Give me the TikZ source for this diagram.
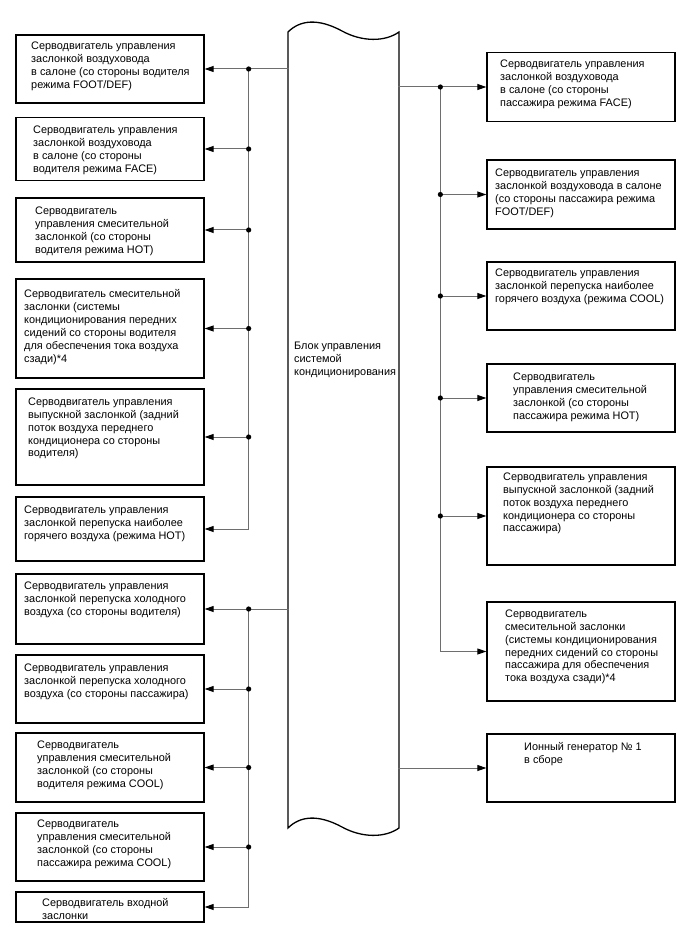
\documentclass[tikz,border=0pt]{standalone}
\usepackage{fontspec}
\setmainfont{Liberation Sans}
\usetikzlibrary{arrows.meta}
\definecolor{conngray}{RGB}{110,110,110}
\begin{document}
\begin{tikzpicture}[x=1pt,y=-1pt,
  box/.style={draw=black,line width=1.3pt,minimum width=188pt,inner sep=0pt,fill=white},
  lbl/.style={anchor=north west,align=left,inner sep=0pt,font=\fontsize{10.9}{12.9}\selectfont},
  conn/.style={draw=conngray,line width=1pt},
  arr/.style={-{Triangle[length=9pt,width=6pt,color=black]}},
  dot/.style={fill=black}]
\useasboundingbox (0,0) rectangle (688,949);
% central unit
\draw[line width=1.3pt] (288,32) .. controls (300,20) and (318,18) .. (342,31)
  .. controls (362,42) and (385,42) .. (399,32) -- (399,828)
  .. controls (385,838) and (362,838) .. (342,827)
  .. controls (318,814) and (300,816) .. (288,828) -- cycle;
\node[lbl] (ecu) at (294,341.5) {Блок управления\\системой\\кондиционирования};
% left boxes
\node[box,minimum height=68pt] (L1) at (110,69) {};
\node[box,minimum height=63pt] (L2) at (110,149) {};
\node[box,minimum height=64pt] (L3) at (110,230) {};
\node[box,minimum height=99pt] (L4) at (110,328.5) {};
\node[box,minimum height=96pt] (L5) at (110,437) {};
\node[box,minimum height=64pt] (L6) at (110,529) {};
\node[box,minimum height=70pt] (L7) at (110,609) {};
\node[box,minimum height=68pt] (L8) at (110,689) {};
\node[box,minimum height=69pt] (L9) at (110,767.5) {};
\node[box,minimum height=68pt] (L10) at (110,847) {};
\node[box,minimum height=30pt] (L11) at (110,907) {};
% right boxes
\node[box,minimum height=69pt] (R1) at (581,87) {};
\node[box,minimum height=69pt] (R2) at (581,194.5) {};
\node[box,minimum height=68pt] (R3) at (581,296) {};
\node[box,minimum height=68pt] (R4) at (581,398) {};
\node[box,minimum height=98pt] (R5) at (581,516) {};
\node[box,minimum height=99pt] (R6) at (581,651.5) {};
\node[box,minimum height=68pt] (R7) at (581,768) {};
% left texts
\node[lbl] (L1t) at (31,41.5) {Серводвигатель управления\\заслонкой воздуховода\\в салоне (со стороны водителя\\режима FOOT/DEF)};
\node[lbl] (L2t) at (33,125.5) {Серводвигатель управления\\заслонкой воздуховода\\в салоне (со стороны\\водителя режима FACE)};
\node[lbl] (L3t) at (35,206.5) {Серводвигатель\\управления смесительной\\заслонкой (со стороны\\водителя режима HOT)};
\node[lbl] (L4t) at (24,289.5) {Серводвигатель смесительной\\заслонки (системы\\кондиционирования передних\\сидений со стороны водителя\\для обеспечения тока воздуха\\сзади)*4};
\node[lbl] (L5t) at (28,397.5) {Серводвигатель управления\\выпускной заслонкой (задний\\поток воздуха переднего\\кондиционера со стороны\\водителя)};
\node[lbl] (L6t) at (24,505.5) {Серводвигатель управления\\заслонкой перепуска наиболее\\горячего воздуха (режима HOT)};
\node[lbl] (L7t) at (24,581.5) {Серводвигатель управления\\заслонкой перепуска холодного\\воздуха (со стороны водителя)};
\node[lbl] (L8t) at (24,663.5) {Серводвигатель управления\\заслонкой перепуска холодного\\воздуха (со стороны пассажира)};
\node[lbl] (L9t) at (37,740.5) {Серводвигатель\\управления смесительной\\заслонкой (со стороны\\водителя режима COOL)};
\node[lbl] (L10t) at (37,819.5) {Серводвигатель\\управления смесительной\\заслонкой (со стороны\\пассажира режима COOL)};
\node[lbl] (L11t) at (42,898.5) {Серводвигатель входной\\заслонки};
% right texts
\node[lbl] (R1t) at (500,59.5) {Серводвигатель управления\\заслонкой воздуховода\\в салоне (со стороны\\пассажира режима FACE)};
\node[lbl] (R2t) at (495,168.5) {Серводвигатель управления\\заслонкой воздуховода в салоне\\(со стороны пассажира режима\\FOOT/DEF)};
\node[lbl] (R3t) at (495,268.5) {Серводвигатель управления\\заслонкой перепуска наиболее\\горячего воздуха (режима COOL)};
\node[lbl] (R4t) at (513,372.5) {Серводвигатель\\управления смесительной\\заслонкой (со стороны\\пассажира режима HOT)};
\node[lbl] (R5t) at (503,472.5) {Серводвигатель управления\\выпускной заслонкой (задний\\поток воздуха переднего\\кондиционера со стороны\\пассажира)};
\node[lbl] (R6t) at (505,609.5) {Серводвигатель\\смесительной заслонки\\(системы кондиционирования\\передних сидений со стороны\\пассажира для обеспечения\\тока воздуха сзади)*4};
\node[lbl] (R7t) at (524,742.5) {Ионный генератор № 1\\в сборе};
% left junctions
\foreach \n in {1,...,11} {
  \coordinate (jl\n) at ([xshift=44pt]L\n.east);
}
\coordinate (bl1) at ([xshift=84pt]L1.east);
\coordinate (bl7) at ([xshift=84pt]L7.east);
\draw[conn] (bl1) -- (jl1);
\draw[conn] (bl7) -- (jl7);
\draw[conn] (jl1) -- (jl6);
\draw[conn] (jl7) -- (jl11);
\foreach \n in {1,...,11} {
  \draw[conn,arr] (jl\n) -- (L\n.east);
}
\foreach \n in {1,2,3,4,5,7,8,9,10} {
  \fill[dot] (jl\n) circle (2.6pt);
}
% right junctions
\foreach \n in {1,...,7} {
  \coordinate (jr\n) at ([xshift=-46pt]R\n.west);
}
\coordinate (br1) at ([xshift=-88pt]R1.west);
\coordinate (br7) at ([xshift=-88pt]R7.west);
\draw[conn] (br1) -- (jr1);
\draw[conn] (jr1) -- (jr6);
\foreach \n in {1,...,6} {
  \draw[conn,arr] (jr\n) -- (R\n.west);
}
\draw[conn,arr] (br7) -- (R7.west);
\foreach \n in {1,...,5} {
  \fill[dot] (jr\n) circle (2.6pt);
}
\end{tikzpicture}
\end{document}
